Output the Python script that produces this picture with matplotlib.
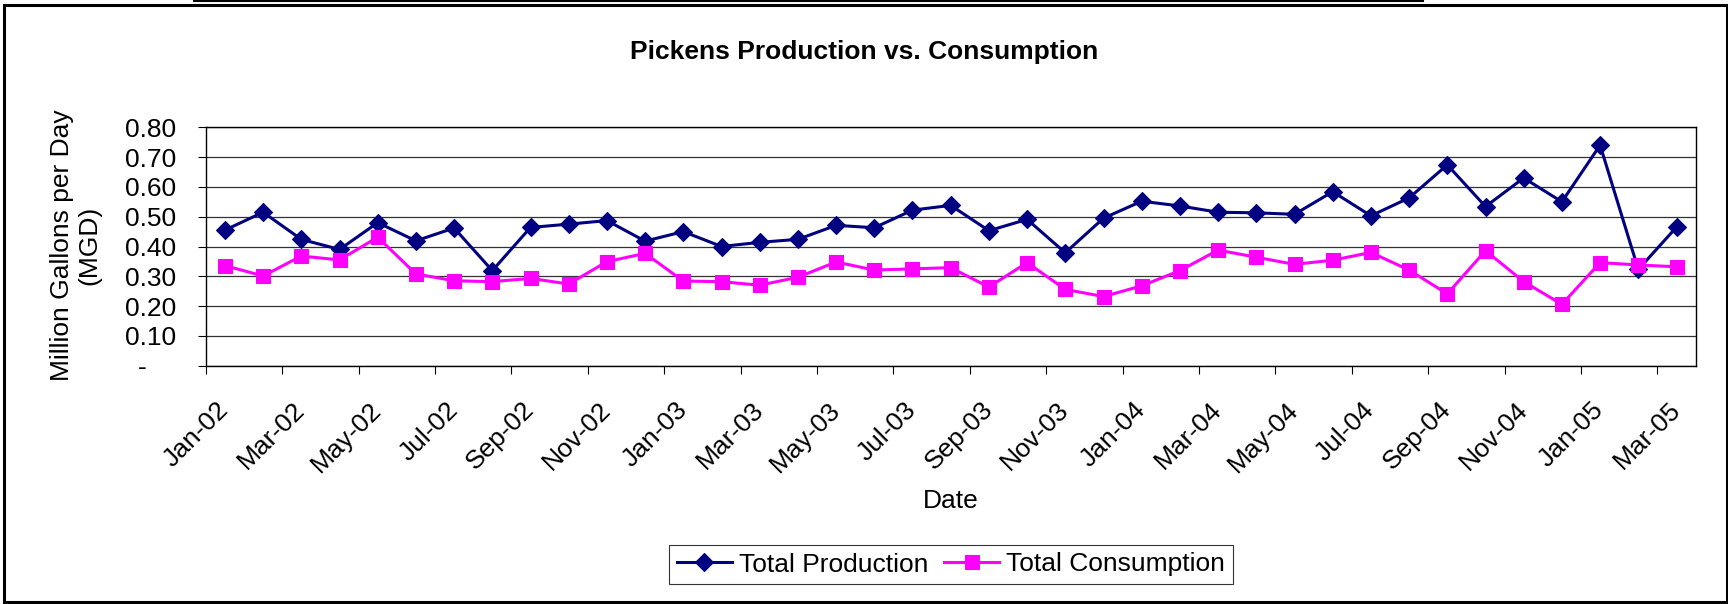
import numpy as np
import matplotlib
matplotlib.use("Agg")
import matplotlib.pyplot as plt
from matplotlib.patches import Rectangle
from matplotlib.lines import Line2D

plt.rcParams['font.family'] = ['Liberation Sans', 'DejaVu Sans']

# ---------------- data ----------------
months = ['Jan-02', 'Feb-02', 'Mar-02', 'Apr-02', 'May-02', 'Jun-02', 'Jul-02', 'Aug-02',
          'Sep-02', 'Oct-02', 'Nov-02', 'Dec-02', 'Jan-03', 'Feb-03', 'Mar-03', 'Apr-03',
          'May-03', 'Jun-03', 'Jul-03', 'Aug-03', 'Sep-03', 'Oct-03', 'Nov-03', 'Dec-03',
          'Jan-04', 'Feb-04', 'Mar-04', 'Apr-04', 'May-04', 'Jun-04', 'Jul-04', 'Aug-04',
          'Sep-04', 'Oct-04', 'Nov-04', 'Dec-04', 'Jan-05', 'Feb-05', 'Mar-05']

production = [0.455, 0.515, 0.424, 0.390, 0.480, 0.419, 0.462, 0.319, 0.464, 0.475,
              0.487, 0.418, 0.450, 0.400, 0.414, 0.424, 0.471, 0.463, 0.522, 0.538,
              0.453, 0.491, 0.379, 0.495, 0.552, 0.536, 0.515, 0.513, 0.508, 0.584,
              0.503, 0.563, 0.674, 0.534, 0.630, 0.550, 0.740, 0.323, 0.465]

consumption = [0.336, 0.301, 0.368, 0.355, 0.431, 0.308, 0.285, 0.282, 0.293, 0.274,
               0.349, 0.377, 0.284, 0.282, 0.270, 0.297, 0.348, 0.321, 0.325, 0.329,
               0.264, 0.346, 0.256, 0.232, 0.268, 0.319, 0.388, 0.364, 0.340, 0.354,
               0.380, 0.321, 0.241, 0.386, 0.282, 0.206, 0.346, 0.338, 0.332]

y_ticks = [0.0, 0.1, 0.2, 0.3, 0.4, 0.5, 0.6, 0.7, 0.8]
y_tick_labels = ['-    ', '0.10', '0.20', '0.30', '0.40', '0.50', '0.60', '0.70', '0.80']

title = 'Pickens Production vs. Consumption'
y_label = 'Million Gallons per Day\n(MGD)'
x_label = 'Date'
series_names = ['Total Production', 'Total Consumption']

FS = 19

# ---------------- figure ----------------
W, H = 1728, 604
fig = plt.figure(figsize=(W / 100, H / 100), dpi=100)
fig.patch.set_facecolor('white')

left, right, top, bottom = 205.8, 1695.6, 127.3, 365.7
ax = fig.add_axes([left / W, 1 - bottom / H, (right - left) / W, (bottom - top) / H])

x = np.arange(len(months))
ax.plot(x, production, color='#000080', lw=2.2, marker='D', ms=8.8,
        mfc='#000080', mec='#000080', mew=0.8, label=series_names[0], zorder=3)
ax.plot(x, consumption, color='#FF00FF', lw=2.2, marker='s', ms=10.5,
        mfc='#FF00FF', mec='#FF00FF', mew=0.8, label=series_names[1], zorder=4)

ax.set_xlim(-0.5, len(months) - 0.5)
ax.set_ylim(0, 0.8)
ax.set_yticks(y_ticks)
ax.set_yticklabels(y_tick_labels)
ax.yaxis.grid(True, color='#333333', lw=0.9)
ax.set_axisbelow(True)

ax.set_xticks(x[::2])
ax.set_xticklabels(months[::2])
ax.set_xticks(np.arange(-0.5, len(months) - 1, 2), minor=True)
ax.tick_params(axis='x', which='major', length=0, pad=29, labelsize=FS)
ax.tick_params(axis='x', which='minor', length=5.5, width=0.8, direction='out')
ax.tick_params(axis='y', length=5.5, width=0.8, pad=16, labelsize=FS, direction='out')
for lab in ax.get_xticklabels():
    lab.set_rotation(45)
    lab.set_ha('right')
    lab.set_va('center')
    lab.set_rotation_mode('anchor')

for s in ax.spines.values():
    s.set_color('black')
    s.set_linewidth(1.0)

# texts
fig.text(0.5, 1 - 59.3 / H, title, ha='center', va='baseline',
         fontsize=FS, fontweight='bold')
fig.text(950.7 / W, 1 - 508.3 / H, x_label, ha='center', va='baseline', fontsize=FS)
fig.text(75.5 / W, 1 - 245 / H, y_label, ha='center', va='center', rotation=90,
         fontsize=FS, multialignment='center')

leg = fig.legend(loc='center', bbox_to_anchor=(950.7 / W, 1 - 564.5 / H), ncol=2,
                 frameon=True, fancybox=False, edgecolor='black', handlelength=2.1,
                 handletextpad=0.25, columnspacing=0.6, borderpad=0.3, fontsize=FS,
                 borderaxespad=0)
leg.get_frame().set_linewidth(0.8)

# outer chart border and top partial line
fig.patches.append(Rectangle((4.3 / W, 1 - 602 / H), (1726.5 - 4.3) / W, (602 - 5.3) / H,
                             transform=fig.transFigure, fill=False, edgecolor='black',
                             linewidth=2.2))
fig.lines.append(Line2D([194 / W, 1423 / W], [1 - 1 / H, 1 - 1 / H],
                        transform=fig.transFigure, color='black', linewidth=1.5))

fig.savefig('out.png', dpi=100)
